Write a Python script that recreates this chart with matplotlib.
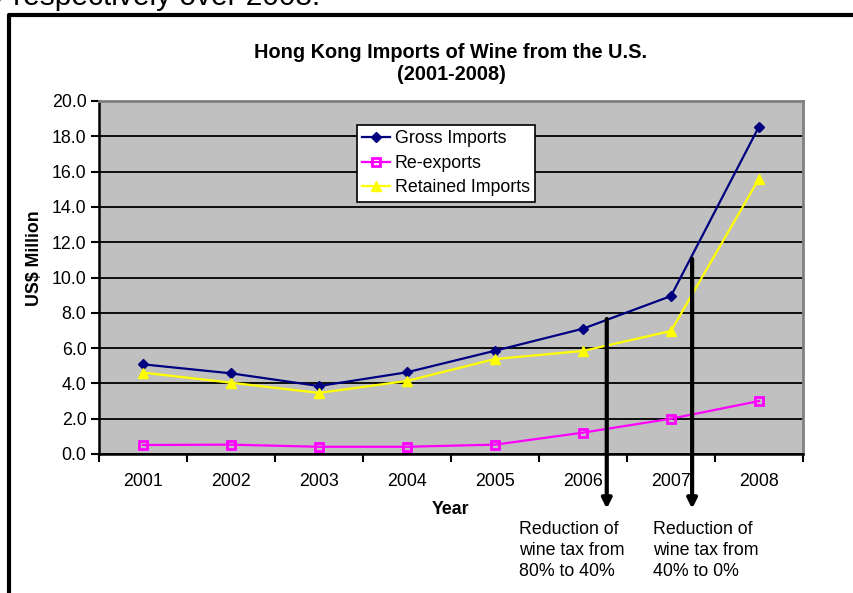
import matplotlib.pyplot as plt
from matplotlib.lines import Line2D

plt.rcParams['font.family'] = ['Liberation Sans', 'DejaVu Sans']

# data (US$ million)
years = ['2001', '2002', '2003', '2004', '2005', '2006', '2007', '2008']
gross = [5.08, 4.57, 3.85, 4.63, 5.85, 7.10, 8.95, 18.55]
reexports = [0.51, 0.53, 0.41, 0.41, 0.53, 1.21, 2.00, 3.00]
retained = [4.61, 4.04, 3.46, 4.14, 5.38, 5.84, 6.97, 15.60]

# tax cuts: (x position between categories, arrow top, text)
tax_notes = [(5.27, 7.65, 'Reduction of\nwine tax from\n80% to 40%'),
             (6.24, 11.05, 'Reduction of\nwine tax from\n40% to 0%')]

W, H = 854, 593
fig = plt.figure(figsize=(W / 100, H / 100), dpi=100)
ax = fig.add_axes([99 / W, 1 - 454 / H, 704 / W, 353 / H])
ax.set_facecolor('#C0C0C0')

x = list(range(len(years)))
ax.plot(x, gross, color='#000080', lw=1.6, marker='D', ms=5.5, label='Gross Imports', zorder=3)
ax.plot(x, reexports, color='#FF00FF', lw=1.6, marker='s', ms=6, mfc='none', mew=2,
        label='Re-exports', zorder=3)
ax.plot(x, retained, color='#FFFF00', lw=1.6, marker='^', ms=7, label='Retained Imports', zorder=3)

ax.set_xlim(-0.5, len(years) - 0.5)
ax.set_ylim(0, 20)
ax.set_yticks([i * 2.0 for i in range(11)])
ax.set_yticklabels(['%.1f' % (i * 2.0) for i in range(11)])
ax.yaxis.grid(True, color='black', lw=1.3)
ax.set_axisbelow(True)

ax.set_xticks([i - 0.5 for i in range(len(years) + 1)])
ax.set_xticklabels([])
ax.set_xticks(x, minor=True)
ax.set_xticklabels(years, minor=True)
ax.tick_params(axis='x', which='major', length=6, width=1.5, direction='out')
ax.tick_params(axis='x', which='minor', length=0, pad=14, labelsize=12.8)
ax.tick_params(axis='y', length=6, width=1.5, pad=3, labelsize=12.8)

for s in ['left', 'bottom']:
    ax.spines[s].set_linewidth(1.8)
    ax.spines[s].set_color('black')
for s in ['top', 'right']:
    ax.spines[s].set_linewidth(2)
    ax.spines[s].set_color('#808080')

fig.text(451 / W, 1 - 64 / H, 'Hong Kong Imports of Wine from the U.S.\n(2001-2008)',
         ha='center', va='center', fontsize=14.3, fontweight='bold', linespacing=1.2)
fig.text(451 / W, 1 - 510 / H, 'Year', ha='center', va='center', fontsize=12.8, fontweight='bold')
fig.text(35 / W, 1 - 258 / H, 'US$ Million', ha='center', va='center', rotation=90,
         fontsize=12.8, fontweight='bold')

leg = ax.legend(loc='upper left', bbox_to_anchor=(0.366, 0.932), fontsize=12.8, fancybox=False,
                framealpha=1, edgecolor='black', borderpad=0.3, labelspacing=0.42,
                handlelength=1.6, handletextpad=0.25, borderaxespad=0)
leg.get_frame().set_linewidth(1.2)
leg.set_zorder(5)

for xp, top, note in tax_notes:
    ax.annotate('', xy=(xp, -3.1), xytext=(xp, top), annotation_clip=False,
                arrowprops=dict(arrowstyle='-|>', lw=3, color='black', mutation_scale=14,
                                shrinkA=0, shrinkB=0), zorder=4)

fig.text(519 / W, 1 - 521 / H, tax_notes[0][2], ha='left', va='top', fontsize=12.8, linespacing=1.32)
fig.text(653 / W, 1 - 521 / H, tax_notes[1][2], ha='left', va='top', fontsize=12.8, linespacing=1.32)

# page text cut off above the chart, and the frame around it
fig.text(320 / W, 1 - 5 / H, 'y respectively over 2008.', ha='right', va='baseline', fontsize=21.5)
fig.add_artist(Line2D([9 / W, 9 / W, 1], [0, 1 - 14.5 / H, 1 - 14.5 / H],
                      transform=fig.transFigure, color='black', lw=3))

fig.savefig('out.png', dpi=100)
